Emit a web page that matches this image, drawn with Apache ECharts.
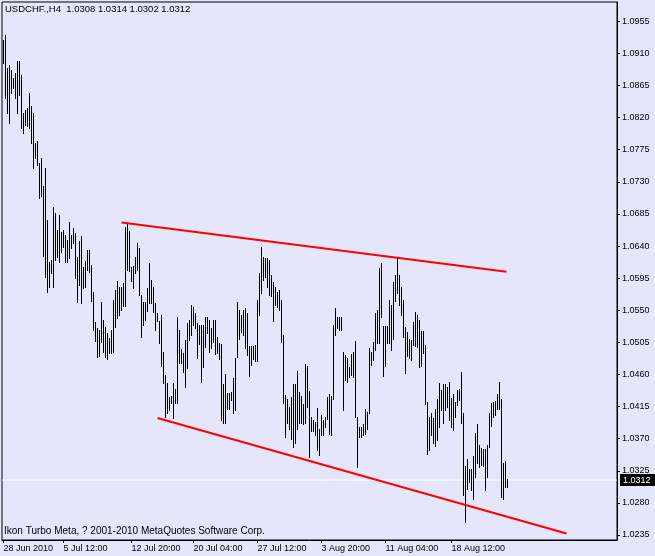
<!DOCTYPE html>
<html>
<head>
<meta charset="utf-8">
<script src="https://cdn.jsdelivr.net/npm/echarts@6/dist/echarts.min.js"></script>
<style>
html,body{margin:0;padding:0;background:#E6E6FA;}
#chart{width:655px;height:556px;}
</style>
</head>
<body>
<div id="chart"></div>
<script>
// ---- data ----
const symbolName = 'USDCHF.,H4';
const lastOHLC = [1.0308, 1.0314, 1.0302, 1.0312];
const footerText = 'Ikon Turbo Meta, ? 2001-2010 MetaQuotes Software Corp.';

// H4 bar highs (bar 0 = 28 Jun 2010 00:00)
const highs = [
1.0929,1.0936,1.0889,1.0894,1.0886,1.0875,1.0882,1.0900,1.0899,1.0879,
1.0826,1.0830,1.0833,1.0854,1.0836,1.0827,1.0784,1.0787,1.0757,1.0764,
1.0724,1.0750,1.0676,1.0617,1.0620,1.0694,1.0686,1.0662,1.0683,1.0659,
1.0662,1.0655,1.0648,1.0673,1.0655,1.0665,1.0658,1.0624,1.0647,1.0654,
1.0610,1.0619,1.0634,1.0635,1.0613,1.0575,1.0533,1.0525,1.0522,1.0561,
1.0536,1.0526,1.0518,1.0511,1.0523,1.0564,1.0578,1.0591,1.0582,1.0582,
1.0588,1.0666,1.0672,1.0661,1.0610,1.0612,1.0624,1.0644,1.0637,1.0571,
1.0561,1.0561,1.0581,1.0616,1.0592,1.0582,1.0560,1.0546,1.0535,1.0544,
1.0491,1.0459,1.0448,1.0428,1.0430,1.0448,1.0439,1.0540,1.0523,1.0495,
1.0490,1.0508,1.0532,1.0537,1.0557,1.0554,1.0546,1.0532,1.0530,1.0530,
1.0530,1.0540,1.0540,1.0536,1.0525,1.0536,1.0536,1.0512,1.0504,1.0502,
1.0446,1.0460,1.0434,1.0434,1.0435,1.0455,1.0483,1.0561,1.0550,1.0544,
1.0550,1.0553,1.0546,1.0500,1.0500,1.0500,1.0501,1.0564,1.0602,1.0638,
1.0624,1.0623,1.0623,1.0621,1.0599,1.0589,1.0582,1.0575,1.0578,1.0564,
1.0515,1.0431,1.0425,1.0414,1.0428,1.0446,1.0446,1.0465,1.0435,1.0430,
1.0418,1.0474,1.0472,1.0437,1.0400,1.0396,1.0393,1.0413,1.0383,1.0403,
1.0396,1.0400,1.0428,1.0432,1.0430,1.0529,1.0553,1.0540,1.0540,1.0540,
1.0491,1.0487,1.0483,1.0470,1.0488,1.0491,1.0507,1.0400,1.0386,1.0386,
1.0390,1.0411,1.0407,1.0497,1.0491,1.0505,1.0546,1.0550,1.0609,1.0616,
1.0528,1.0528,1.0528,1.0564,1.0557,1.0589,1.0599,1.0624,1.0599,1.0582,
1.0565,1.0526,1.0519,1.0509,1.0508,1.0533,1.0547,1.0543,1.0536,1.0521,
1.0521,1.0501,1.0421,1.0400,1.0406,1.0399,1.0411,1.0425,1.0448,1.0438,
1.0446,1.0446,1.0442,1.0449,1.0427,1.0432,1.0421,1.0438,1.0439,1.0463,
1.0406,1.0332,1.0341,1.0327,1.0327,1.0346,1.0378,1.0390,1.0361,1.0357,
1.0355,1.0355,1.0361,1.0406,1.0420,1.0421,1.0423,1.0432,1.0449,1.0425,
1.0336,1.0339,1.0314
];

// H4 bar lows
const lows = [
1.0897,1.0847,1.0826,1.0813,1.0855,1.0861,1.0848,1.0826,1.0851,1.0805,
1.0799,1.0809,1.0808,1.0806,1.0785,1.0749,1.0764,1.0753,1.0707,1.0710,
1.0626,1.0596,1.0575,1.0582,1.0602,1.0582,1.0620,1.0624,1.0617,1.0631,
1.0638,1.0617,1.0617,1.0623,1.0637,1.0644,1.0595,1.0561,1.0585,1.0560,
1.0581,1.0582,1.0606,1.0603,1.0563,1.0523,1.0507,1.0484,1.0486,1.0505,
1.0491,1.0484,1.0481,1.0490,1.0490,1.0491,1.0526,1.0539,1.0543,1.0550,
1.0556,1.0556,1.0606,1.0605,1.0591,1.0581,1.0602,1.0606,1.0571,1.0512,
1.0530,1.0537,1.0549,1.0560,1.0560,1.0547,1.0523,1.0535,1.0504,1.0472,
1.0448,1.0400,1.0406,1.0410,1.0420,1.0399,1.0420,1.0420,1.0476,1.0476,
1.0463,1.0442,1.0469,1.0508,1.0515,1.0530,1.0525,1.0483,1.0502,1.0449,
1.0470,1.0498,1.0518,1.0491,1.0497,1.0505,1.0488,1.0490,1.0481,1.0396,
1.0392,1.0392,1.0411,1.0411,1.0424,1.0406,1.0410,1.0484,1.0509,1.0519,
1.0515,1.0497,1.0487,1.0458,1.0473,1.0481,1.0479,1.0479,1.0543,1.0574,
1.0593,1.0596,1.0582,1.0571,1.0570,1.0535,1.0558,1.0554,1.0550,1.0505,
1.0420,1.0372,1.0392,1.0383,1.0369,1.0358,1.0364,1.0383,1.0392,1.0392,
1.0390,1.0392,1.0414,1.0344,1.0381,1.0381,1.0375,1.0354,1.0347,1.0375,
1.0375,1.0386,1.0397,1.0376,1.0375,1.0425,1.0516,1.0525,1.0523,1.0522,
1.0410,1.0452,1.0449,1.0456,1.0459,1.0456,1.0400,1.0330,1.0372,1.0372,
1.0375,1.0376,1.0383,1.0406,1.0473,1.0480,1.0494,1.0504,1.0504,1.0540,
1.0458,1.0472,1.0504,1.0504,1.0494,1.0509,1.0563,1.0574,1.0557,1.0543,
1.0512,1.0462,1.0486,1.0483,1.0480,1.0501,1.0500,1.0498,1.0470,1.0472,
1.0490,1.0418,1.0348,1.0354,1.0375,1.0364,1.0360,1.0368,1.0386,1.0410,
1.0392,1.0410,1.0414,1.0396,1.0386,1.0382,1.0400,1.0417,1.0424,1.0392,
1.0291,1.0253,1.0299,1.0309,1.0298,1.0285,1.0316,1.0336,1.0330,1.0333,
1.0332,1.0298,1.0316,1.0358,1.0388,1.0400,1.0403,1.0411,1.0411,1.0288,
1.0285,1.0302,1.0302
];

// time-axis labels and the bar index where each sits
const tickIndex  = [0, 30, 64, 95, 127, 159, 191, 224];
const tickLabels = ['28 Jun 2010','5 Jul 12:00','12 Jul 20:00','20 Jul 04:00',
                    '27 Jul 12:00','3 Aug 20:00','11 Aug 04:00','18 Aug 12:00'];

// price-axis labels
const priceTicks = [1.0235,1.0280,1.0325,1.0370,1.0415,1.0460,1.0505,1.0550,
                    1.0595,1.0640,1.0685,1.0730,1.0775,1.0820,1.0865,1.0910,1.0955];

// trend lines drawn on the chart: [bar index, price]
const upperTrend = [[59, 1.0673], [251.5, 1.0604]];
const lowerTrend = [[77, 1.0399], [281.5, 1.0237]];

// ---- chart ----
const FONT = "'Liberation Sans', Arial, sans-serif";
const chart = echarts.init(document.getElementById('chart'), null, {renderer: 'canvas'});

const barData = highs.map((h, i) => [i, lows[i], h]);
const X_MIN = -0.75, X_MAX = 306.75;

chart.setOption({
  animation: false,
  backgroundColor: '#E6E6FA',
  title: [
    { text: symbolName + '  ' + lastOHLC.map(v => v.toFixed(4)).join(' '),
      left: 5, top: 4, padding: 0,
      textStyle: { fontSize: 9.5, fontWeight: 'normal', color: '#000', fontFamily: FONT } },
    { text: footerText,
      left: 4, top: 526, padding: 0,
      textStyle: { fontSize: 10, fontWeight: 'normal', color: '#000', fontFamily: FONT } }
  ],
  grid: { left: 2, right: 38, top: 2, bottom: 16, show: true,
          borderColor: '#000', borderWidth: 1, backgroundColor: 'transparent' },
  xAxis: {
    type: 'value', min: X_MIN, max: X_MAX,
    axisLine: { show: true, onZero: false, lineStyle: { color: '#000', width: 1 } },
    axisTick: { show: true, customValues: tickIndex, length: 3, lineStyle: { color: '#000' } },
    axisLabel: {
      customValues: tickIndex,
      formatter: v => { const k = tickIndex.indexOf(Math.round(v)); return k >= 0 ? tickLabels[k] : ''; },
      align: 'left', margin: 4, color: '#000', fontSize: 9, fontFamily: FONT
    },
    splitLine: { show: false }
  },
  yAxis: {
    type: 'value', position: 'right', min: 1.0228, max: 1.0982,
    axisLine: { show: true, onZero: false, lineStyle: { color: '#000', width: 1 } },
    axisTick: { show: true, customValues: priceTicks, length: 3, lineStyle: { color: '#000' } },
    axisLabel: {
      customValues: priceTicks,
      formatter: v => Number(v).toFixed(4),
      margin: 5, color: '#000', fontSize: 9, fontFamily: FONT
    },
    splitLine: { show: false }
  },
  series: [
    {
      type: 'line', name: 'price', z: 1, silent: true, symbol: 'none',
      data: [[X_MIN, lastOHLC[3]], [X_MAX, lastOHLC[3]]],
      lineStyle: { color: '#FFFFFF', width: 1 },
      endLabel: { show: true, distance: 3,
                  formatter: () => lastOHLC[3].toFixed(4),
                  color: '#fff', backgroundColor: '#000', padding: [2, 6, 1, 3],
                  fontSize: 9, fontFamily: FONT }
    },
    {
      type: 'custom', name: 'bars', z: 3, silent: true,
      data: barData,
      encode: { x: 0, y: [1, 2] },
      renderItem: function (params, api) {
        const i = api.value(0);
        const pLo = api.coord([i, api.value(1)]);
        const pHi = api.coord([i, api.value(2)]);
        const x = Math.floor(pLo[0]);
        const yTop = Math.round(pHi[1]);
        const yBot = Math.round(pLo[1]);
        return { type: 'rect',
                 shape: { x: x, y: yTop, width: 1, height: Math.max(1, yBot - yTop + 1) },
                 style: { fill: '#000' } };
      }
    },
    {
      type: 'line', name: 'upper', z: 4, silent: true, symbol: 'none',
      data: upperTrend, lineStyle: { color: '#FF0000', width: 2 }
    },
    {
      type: 'line', name: 'lower', z: 4, silent: true, symbol: 'none',
      data: lowerTrend, lineStyle: { color: '#FF0000', width: 2 }
    }
  ]
});
</script>
</body>
</html>
